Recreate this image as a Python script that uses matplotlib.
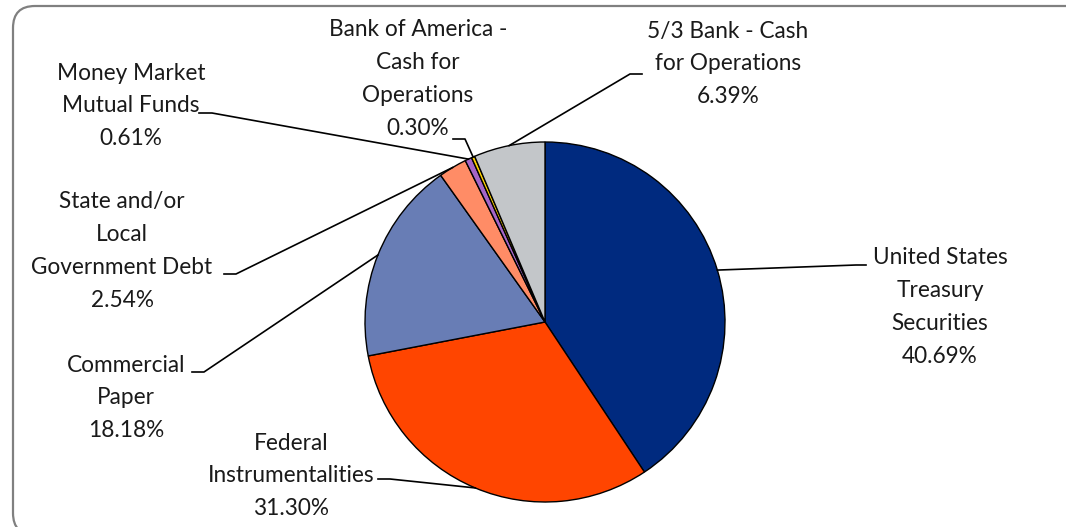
import numpy as np
import matplotlib
matplotlib.use('Agg')
import matplotlib.pyplot as plt
from matplotlib.patches import FancyBboxPatch

# datos del grafico
categorias = ['United States\nTreasury\nSecurities', 'Federal\nInstrumentalities', 'Commercial\nPaper',
              'State and/or\nLocal\nGovernment Debt', 'Money Market\nMutual Funds',
              'Bank of America -\nCash for\nOperations', '5/3 Bank - Cash\nfor Operations']
porcentajes = [40.69, 31.30, 18.18, 2.54, 0.61, 0.30, 6.39]
colores = ['#002A7F', '#FF4500', '#687DB5', '#FF8C66', '#A466C8', '#FFD200', '#C3C6C9']

W, H = 1066, 527
plt.rcParams['font.family'] = ['Lato', 'DejaVu Sans']

fig = plt.figure(figsize=(W / 100, H / 100), dpi=100)
ax = fig.add_axes([0, 0, 1, 1])

def Y(y):
    # coordenadas de la imagen (y hacia abajo)
    return H - y

# marco redondeado
marco = FancyBboxPatch((13, Y(535)), 1090, 529, boxstyle='round,pad=0,rounding_size=22',
                       fc='white', ec='#808080', lw=1.6, zorder=0)
ax.add_patch(marco)

cx, cy, r = 545, Y(322), 180
wedges, _ = ax.pie(porcentajes, colors=colores, startangle=90, counterclock=False,
                   center=(cx, cy), radius=r, frame=True,
                   wedgeprops=dict(edgecolor='black', linewidth=1.0))
ax.set_xlim(0, W)
ax.set_ylim(0, H)
ax.set_aspect('equal')
ax.axis('off')

# posicion de cada etiqueta (centro) y extremo de la linea guia
pos_texto = [(940, 307), (291, 476), (126, 398), (122, 251), (131, 106), (418, 79), (728, 64)]
codo = [((866, 265), (856, 265)), ((378, 479), (390, 479)), ((192, 372), (204, 372)),
        ((224, 274), (236, 274)), ((199, 113), (212, 113)), ((453, 139), (465, 139)),
        ((642, 74), (630, 74))]

for i, w in enumerate(wedges):
    texto = categorias[i] + '\n' + f'{porcentajes[i]:.2f}%'
    x, y = pos_texto[i]
    ax.text(x, Y(y), texto, ha='center', va='center', fontsize=16.3, color='#1a1a1a',
            linespacing=1.7)
    ang = np.deg2rad((w.theta1 + w.theta2) / 2)
    ax_, ay_ = cx + r * np.cos(ang), cy + r * np.sin(ang)
    (x0, y0), (x1, y1) = codo[i]
    ax.plot([x0, x1, ax_], [Y(y0), Y(y1), ay_], color='black', lw=1.2, zorder=5)

fig.savefig('out.png', dpi=100)
